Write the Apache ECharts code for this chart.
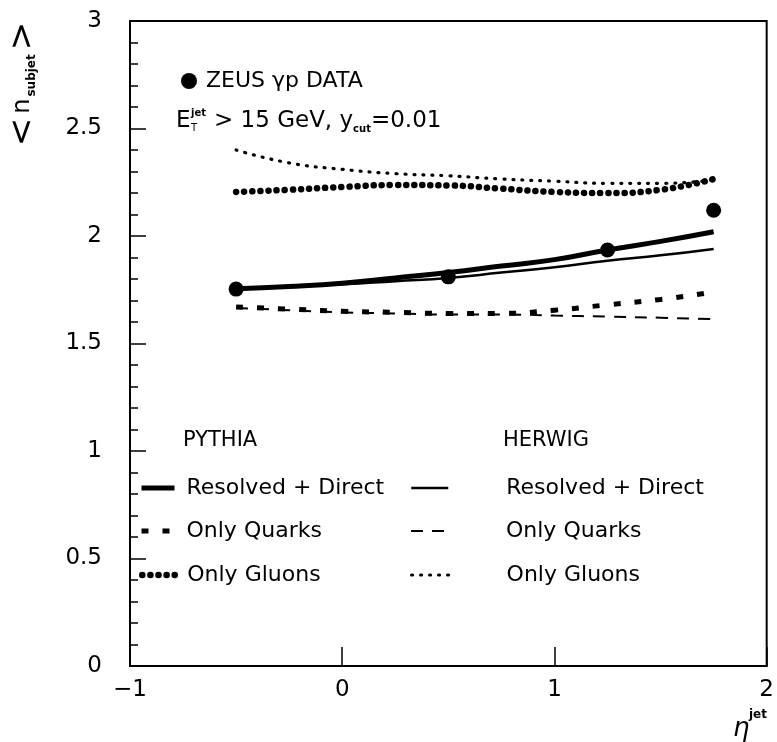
<!DOCTYPE html>
<html><head><meta charset="utf-8">
<script src="https://cdn.jsdelivr.net/npm/echarts@6/dist/echarts.min.js"></script>
<style>html,body{margin:0;padding:0;background:#fff}#c{width:777px;height:742px}</style>
</head><body><div id="c"></div>
<script>
// ---- data ----
const etaGrid       = [-0.5, -0.25, 0, 0.25, 0.5, 0.75, 1.0, 1.25, 1.5, 1.75];
const pythiaResDir  = [1.755, 1.765, 1.78, 1.805, 1.83, 1.86, 1.89, 1.935, 1.975, 2.02];
const herwigResDir  = [1.76, 1.765, 1.775, 1.79, 1.805, 1.83, 1.855, 1.885, 1.91, 1.94];
const pythiaQuarks  = [1.67, 1.66, 1.65, 1.645, 1.64, 1.64, 1.655, 1.68, 1.705, 1.74];
const herwigQuarks  = [1.665, 1.655, 1.645, 1.64, 1.635, 1.635, 1.63, 1.625, 1.62, 1.613];
const pythiaGluons  = [2.205, 2.215, 2.228, 2.237, 2.235, 2.22, 2.205, 2.20, 2.215, 2.265];
const herwigGluons  = [2.40, 2.34, 2.31, 2.29, 2.28, 2.265, 2.255, 2.245, 2.245, 2.26];
const dataEta       = [-0.5, 0.5, 1.25, 1.75];
const dataN         = [1.753, 1.81, 1.935, 2.12];
const xTickValues   = [-1, 0, 1, 2];
const yTickValues   = [0, 0.5, 1, 1.5, 2, 2.5, 3];

const FONT = 'DejaVu Sans';
const zip = (xs, ys) => xs.map((x, i) => [x, ys[i]]);

function lineSeries(name, ys, width, type, cap) {
  return {
    name, type: 'line', data: zip(etaGrid, ys), smooth: true, symbol: 'none',
    itemStyle: { color: '#000' },
    lineStyle: { color: '#000', width, type, cap: cap || 'butt' },
    z: 3, silent: true
  };
}

const series = [
  lineSeries('PYTHIA Resolved + Direct', pythiaResDir, 5, 'solid'),
  lineSeries('PYTHIA Only Quarks', pythiaQuarks, 5, [7, 14]),
  lineSeries('PYTHIA Only Gluons', pythiaGluons, 6.5, [0.1, 8], 'round'),
  lineSeries('HERWIG Resolved + Direct', herwigResDir, 2.5, 'solid'),
  lineSeries('HERWIG Only Quarks', herwigQuarks, 2, [12, 9]),
  lineSeries('HERWIG Only Gluons', herwigGluons, 3.2, [1, 8], 'round'),
  { name: 'ZEUS γp DATA', type: 'scatter', data: zip(dataEta, dataN), symbol: 'circle',
    symbolSize: 15, itemStyle: { color: '#000', opacity: 1 }, z: 5, silent: true }
];

const legendText = { fontFamily: FONT, fontSize: 22, color: '#000' };
function rowLegend(name, left, top, w, pad) {
  return {
    data: [name], left, top, orient: 'horizontal', padding: 0,
    itemWidth: w, itemHeight: 14, selectedMode: false,
    formatter: n => n.replace(/^(PYTHIA|HERWIG) /, ''),
    itemStyle: { color: 'rgba(0,0,0,0)', borderWidth: 0, opacity: 0 },
    lineStyle: { width: 'inherit', type: 'inherit', cap: 'inherit', color: '#000' },
    textStyle: Object.assign({ padding: [0, 0, 0, pad] }, legendText)
  };
}

const legends = [
  { data: [{ name: 'ZEUS γp DATA', icon: 'circle' }], left: 181, top: 70, padding: 0,
    itemWidth: 16, itemHeight: 16, selectedMode: false,
    itemStyle: { color: '#000', opacity: 1 },
    textStyle: { fontFamily: FONT, fontSize: 22, color: '#000', padding: [0, 0, 0, 4] } },
  rowLegend('PYTHIA Resolved + Direct', 139, 477, 33, 7),
  rowLegend('PYTHIA Only Quarks', 139, 520, 33, 7),
  rowLegend('PYTHIA Only Gluons', 139, 564, 33, 7),
  rowLegend('HERWIG Resolved + Direct', 410, 477, 37, 53),
  rowLegend('HERWIG Only Quarks', 410, 520, 37, 53),
  rowLegend('HERWIG Only Gluons', 410, 564, 37, 53)
];

const option = {
  animation: false,
  backgroundColor: '#fff',
  grid: { left: 130, right: 3, top: 21, bottom: 76, show: true, borderColor: '#000', borderWidth: 2 },
  xAxis: {
    type: 'value', min: xTickValues[0], max: xTickValues[xTickValues.length - 1], interval: 1,
    axisLine: { show: true, onZero: false, lineStyle: { color: '#000', width: 2 } },
    axisTick: { show: true, inside: true, length: 19, lineStyle: { color: '#000', width: 1.5 } },
    splitLine: { show: false },
    axisLabel: { color: '#000', fontFamily: FONT, fontSize: 23, margin: 13,
      formatter: v => xTickValues.includes(v) ? String(v).replace('-', '\u2212') : '' }
  },
  yAxis: {
    type: 'value', min: yTickValues[0], max: yTickValues[yTickValues.length - 1], interval: 0.5,
    axisLine: { show: true, onZero: false, lineStyle: { color: '#000', width: 2 } },
    axisTick: { show: true, inside: true, length: 16, lineStyle: { color: '#000', width: 1.5 } },
    minorTick: { show: true, splitNumber: 5, length: 8, lineStyle: { color: '#000', width: 1.5 } },
    splitLine: { show: false },
    axisLabel: { color: '#000', fontFamily: FONT, fontSize: 23, margin: 28,
      formatter: v => yTickValues.includes(v) ? String(v) : '' }
  },
  legend: legends,
  series,
  graphic: [
    { type: 'text', x: 23, y: 84, rotation: Math.PI / 2,
      style: { text: '{b|<}{n|n}{s|subjet}{b|>}', align: 'center', verticalAlign: 'middle',
        fill: '#000', fontFamily: FONT,
        rich: {
          b: { fontSize: 34, fontFamily: FONT, lineHeight: 30, verticalAlign: 'middle' },
          n: { fontSize: 24, fontFamily: FONT, lineHeight: 30, padding: [0, 2, 0, 4] },
          s: { fontSize: 12, fontWeight: 'bold', fontFamily: FONT, lineHeight: 30, verticalAlign: 'bottom', padding: [0, 4, 0, 0] }
        } } },
    { type: 'text', x: 176, y: 121, style: { text: 'E', fontFamily: FONT, fontSize: 23, fill: '#000', verticalAlign: 'middle' } },
    { type: 'text', x: 191, y: 113, style: { text: 'jet', fontFamily: FONT, fontSize: 10, fontWeight: 'bold', fill: '#000', verticalAlign: 'middle' } },
    { type: 'text', x: 191, y: 128, style: { text: 'T', fontFamily: FONT, fontSize: 10, fill: '#000', verticalAlign: 'middle' } },
    { type: 'text', x: 214, y: 121,
      style: { text: '{t|> 15 GeV, y}{c|cut}{t|=0.01}', verticalAlign: 'middle', fill: '#000',
        rich: {
          t: { fontFamily: FONT, fontSize: 23, lineHeight: 26 },
          c: { fontFamily: FONT, fontSize: 10, fontWeight: 'bold', lineHeight: 26, verticalAlign: 'bottom' }
        } } },
    { type: 'text', x: 183, y: 441, style: { text: 'PYTHIA', fontFamily: FONT, fontSize: 21, fill: '#000', verticalAlign: 'middle' } },
    { type: 'text', x: 503, y: 441, style: { text: 'HERWIG', fontFamily: FONT, fontSize: 21, fill: '#000', verticalAlign: 'middle' } },
    { type: 'text', x: 733, y: 729, style: { text: 'η', fontFamily: FONT, fontSize: 26, fontStyle: 'italic', fill: '#000', verticalAlign: 'middle' } },
    { type: 'text', x: 749, y: 715, style: { text: 'jet', fontFamily: FONT, fontSize: 12, fontWeight: 'bold', fill: '#000', verticalAlign: 'middle' } }
  ]
};

const chart = echarts.init(document.getElementById('c'), null, { renderer: 'canvas' });
chart.setOption(option);
</script>
</body></html>
